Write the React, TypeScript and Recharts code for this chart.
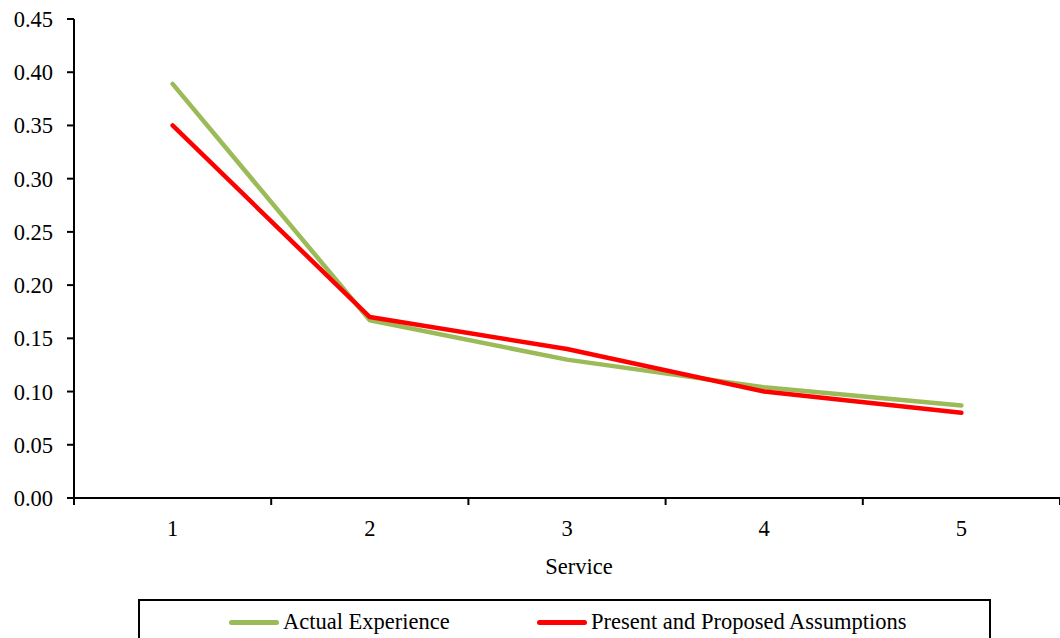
import { CartesianGrid, Label, Line, LineChart, XAxis, YAxis } from 'recharts'

const services = [1, 2, 3, 4, 5]
const actualExperience = [0.389, 0.167, 0.13, 0.104, 0.087]
const proposedAssumptions = [0.35, 0.17, 0.14, 0.1, 0.08]
const yTicks = [0, 0.05, 0.1, 0.15, 0.2, 0.25, 0.3, 0.35, 0.4, 0.45]

const seriesNames = ['Actual Experience', 'Present and Proposed Assumptions']
const seriesColors = ['#9BBB59', '#FF0000']

const FONT = '"Liberation Serif", "Times New Roman", serif'
const FS = 22.5

const data = services.map((s, i) => ({
  service: s,
  actual: actualExperience[i],
  proposed: proposedAssumptions[i],
}))

// tick marks between categories, labels at category centres
const boundaries = [0.5, ...services.map(s => s + 0.5)]
const xTicks = [...boundaries, ...services].sort((a, b) => a - b)

function ServiceTick(props: any) {
  const { x, y, payload } = props
  if (Number.isInteger(payload.value)) {
    return (
      <text x={x} y={y + 38} textAnchor="middle" fontFamily={FONT} fontSize={FS} fill="#000">
        {payload.value}
      </text>
    )
  }
  return <line x1={x} x2={x} y1={y} y2={y + 7} stroke="#000" strokeWidth={2} />
}

function ServiceLabel(props: any) {
  const { viewBox } = props
  const cx = viewBox.x + viewBox.width / 2 + 12
  return (
    <text x={cx} y={viewBox.y + viewBox.height + 16} textAnchor="middle" fontFamily={FONT} fontSize={FS} fill="#000">
      Service
    </text>
  )
}

export default function App() {
  return (
    <div style={{ position: 'fixed', left: 0, top: 0, width: 1060, height: 638, background: '#fff', overflow: 'hidden' }}>
      <LineChart width={1060} height={638} data={data} margin={{ top: 19, right: 0, left: 0, bottom: 80 }}>
        <CartesianGrid stroke="none" />
        <XAxis
          dataKey="service"
          type="number"
          domain={[0.5, 5.5]}
          ticks={xTicks}
          interval={0}
          tick={<ServiceTick />}
          tickLine={false}
          tickSize={0}
          tickMargin={0}
          height={60}
          axisLine={{ stroke: '#000', strokeWidth: 2 }}
        >
          <Label content={<ServiceLabel />} />
        </XAxis>
        <YAxis
          domain={[0, 0.45]}
          ticks={yTicks}
          interval={0}
          width={74}
          tickFormatter={(v: number) => v.toFixed(2)}
          tick={{ fontFamily: FONT, fontSize: FS, fill: '#000' }}
          tickSize={7}
          tickMargin={14}
          tickLine={{ stroke: '#000', strokeWidth: 2 }}
          axisLine={{ stroke: '#000', strokeWidth: 2 }}
        />
        <Line
          dataKey="actual"
          name={seriesNames[0]}
          stroke={seriesColors[0]}
          strokeWidth={4.5}
          strokeLinecap="round"
          strokeLinejoin="round"
          dot={false}
          isAnimationActive={false}
        />
        <Line
          dataKey="proposed"
          name={seriesNames[1]}
          stroke={seriesColors[1]}
          strokeWidth={4.5}
          strokeLinecap="round"
          strokeLinejoin="round"
          dot={false}
          isAnimationActive={false}
        />
      </LineChart>
      <div
        style={{
          position: 'absolute', left: 138, top: 599, width: 849, height: 50,
          border: '2px solid #000', display: 'flex', alignItems: 'flex-start',
          fontFamily: FONT, fontSize: FS, color: '#000', boxSizing: 'content-box',
        }}
      >
        {seriesNames.map((name, i) => (
          <div key={name} style={{ position: 'absolute', left: i === 0 ? 89 : 397, top: 8, display: 'flex', alignItems: 'center' }}>
            <span style={{ display: 'inline-block', width: 50, height: 5, borderRadius: 3, background: seriesColors[i], marginRight: 4 }} />
            <span>{name}</span>
          </div>
        ))}
      </div>
    </div>
  )
}
